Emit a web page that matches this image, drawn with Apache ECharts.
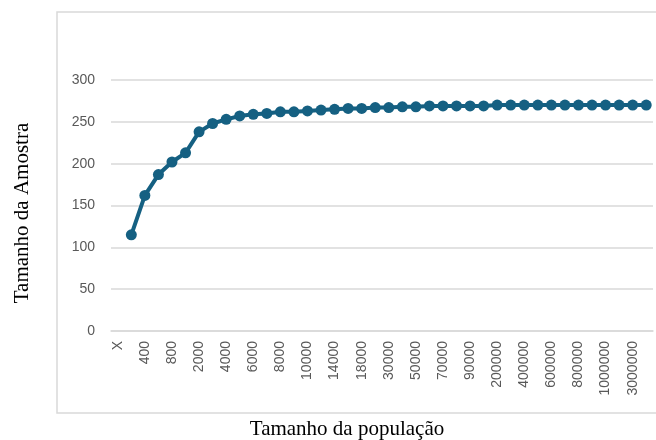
<!DOCTYPE html>
<html>
<head>
<meta charset="utf-8">
<script src="https://cdn.jsdelivr.net/npm/echarts@6/dist/echarts.min.js"></script>
<style>
html,body{margin:0;padding:0;background:#fff;}
#c{width:656px;height:440px;}
</style>
</head>
<body>
<div id="c"></div>
<script>
var categories = ['X','200','400','600','800','1000','2000','3000','4000','5000','6000','7000','8000','9000','10000','12000','14000','16000','18000','20000','30000','40000','50000','60000','70000','80000','90000','100000','200000','300000','400000','500000','600000','700000','800000','900000','1000000','2000000','3000000','4000000'];
var sampleSize = [null,115,162,187,202,213,238,248,253,257,259,260,262,262,263,264,265,266,266,267,267,268,268,269,269,269,269,269,270,270,270,270,270,270,270,270,270,270,270,270];
var yTitle = 'Tamanho da Amostra';
var xTitle = 'Tamanho da população';

var chart = echarts.init(document.getElementById('c'));
chart.setOption({
  animation: false,
  backgroundColor: '#ffffff',
  grid: { left: 111, right: 3, top: 80, bottom: 109, containLabel: false },
  xAxis: {
    type: 'category',
    data: categories,
    boundaryGap: true,
    axisLine: { show: true, lineStyle: { color: '#D9D9D9', width: 1.5 } },
    axisTick: { show: false },
    axisLabel: {
      interval: 1, rotate: 90, margin: 10,
      color: '#595959', fontSize: 14, fontFamily: 'Liberation Sans, Arial, sans-serif'
    },
    splitLine: { show: false }
  },
  yAxis: {
    type: 'value',
    min: 0, max: 300, interval: 50,
    axisLine: { show: false },
    axisTick: { show: false },
    axisLabel: { margin: 16, color: '#595959', fontSize: 14, fontFamily: 'Liberation Sans, Arial, sans-serif' },
    splitLine: { lineStyle: { color: '#D9D9D9', width: 1.5 } }
  },
  series: [{
    type: 'line',
    data: sampleSize,
    connectNulls: false,
    showAllSymbol: true,
    symbol: 'circle',
    symbolSize: 11,
    itemStyle: { color: '#156082' },
    lineStyle: { color: '#156082', width: 4 }
  }],
  graphic: [
    { type: 'rect', shape: { x: 57, y: 12, width: 640, height: 401 },
      style: { fill: 'none', stroke: '#D9D9D9', lineWidth: 1.5 }, z: -1 },
    { type: 'text', x: 22, y: 213, rotation: Math.PI / 2,
      style: { text: yTitle, font: '21px "Liberation Serif", "Times New Roman", serif', fill: '#000', textAlign: 'center', textVerticalAlign: 'middle' } },
    { type: 'text', x: 347, y: 429,
      style: { text: xTitle, font: '21px "Liberation Serif", "Times New Roman", serif', fill: '#000', textAlign: 'center', textVerticalAlign: 'middle' } }
  ]
});
</script>
</body>
</html>
